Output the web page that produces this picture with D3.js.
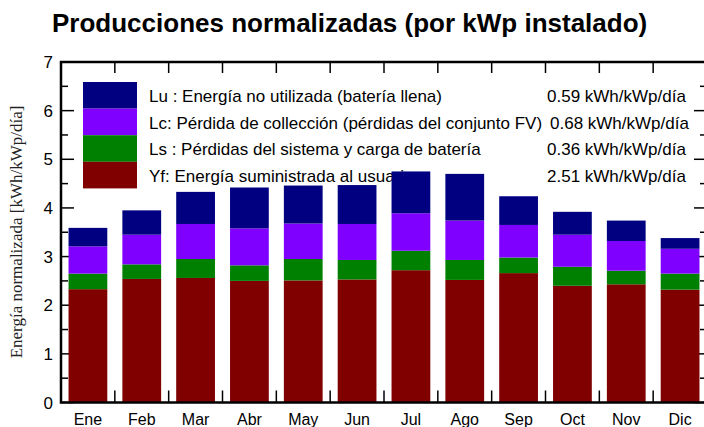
<!DOCTYPE html>
<html>
<head>
<meta charset="utf-8">
<style>
	body { margin: 0; background: #fff; }
	svg { position: absolute; top: 0; left: 0; }
	.frame { fill: none; stroke: #000; stroke-width: 2.5px; }
	.tick { stroke: #000; stroke-width: 1.5px; }
	text { font-family: "Liberation Sans", Arial, sans-serif; fill: #000; }
</style>
<script src="https://cdnjs.cloudflare.com/ajax/libs/d3/7.8.5/d3.min.js"></script>
</head>
<body>
<svg width="704" height="427"></svg>
<script>
// data (kWh/kWp/dia)
var months = ["Ene","Feb","Mar","Abr","May","Jun","Jul","Ago","Sep","Oct","Nov","Dic"];
var yf = [2.33, 2.54, 2.56, 2.50, 2.51, 2.53, 2.72, 2.52, 2.66, 2.40, 2.43, 2.32];
var ls = [0.32, 0.30, 0.39, 0.32, 0.44, 0.40, 0.40, 0.41, 0.32, 0.39, 0.28, 0.33];
var lc = [0.56, 0.61, 0.72, 0.76, 0.73, 0.74, 0.77, 0.81, 0.67, 0.66, 0.61, 0.51];
var lu = [0.38, 0.50, 0.66, 0.84, 0.78, 0.80, 0.86, 0.96, 0.59, 0.47, 0.42, 0.22];

var keys = ["yf", "ls", "lc", "lu"];
var colors = {yf: "#800000", ls: "#008000", lc: "#8000ff", lu: "#000080"};
var legendLabels = [
	{key: "lu", label: "Lu : Energía no utilizada (batería llena)", value: "0.59 kWh/kWp/día"},
	{key: "lc", label: "Lc: Pérdida de collección (pérdidas del conjunto FV)", value: "0.68 kWh/kWp/día"},
	{key: "ls", label: "Ls : Pérdidas del sistema y carga de batería", value: "0.36 kWh/kWp/día"},
	{key: "yf", label: "Yf: Energía suministrada al usuario", value: "2.51 kWh/kWp/día"}
];
var yTicks = [0, 1, 2, 3, 4, 5, 6, 7];

var table = months.map(function(m, i) {
	return {month: m, yf: yf[i], ls: ls[i], lc: lc[i], lu: lu[i]};
});

var svg = d3.select("svg");
var mLeft = 61, mRight = 707, mTop = 62, mBottom = 402.5;

var x = d3.scaleBand().domain(months).range([mLeft, mRight])
	.paddingInner(0.28).paddingOuter(0.14);
var y = d3.scaleLinear().domain([0, 7]).range([mBottom, mTop]);

// title
svg.append("text")
	.attr("x", 52).attr("y", 32)
	.attr("font-size", 26).attr("font-weight", "bold")
	.text("Producciones normalizadas (por kWp instalado)");

// y label
svg.append("text")
	.attr("transform", "translate(22," + 232 + ") rotate(-90)")
	.attr("text-anchor", "middle")
	.style("font-family", "'Liberation Serif', 'Times New Roman', serif")
	.style("fill", "#222")
	.attr("font-size", 17)
	.text("Energía normalizada [kWh/kWp/día]");

// ticks
var ticks = svg.append("g");
d3.range(0, 7.01, 0.5).forEach(function(v) {
	var len = (v % 1 === 0) ? 13 : 7;
	ticks.append("line").attr("class", "tick")
		.attr("x1", mLeft).attr("x2", mLeft + len).attr("y1", y(v)).attr("y2", y(v));
	ticks.append("line").attr("class", "tick")
		.attr("x1", mRight).attr("x2", mRight - len).attr("y1", y(v)).attr("y2", y(v));
});
months.slice(1).forEach(function(m) {
	var bx = x(m) - x.step() * 0.14;
	ticks.append("line").attr("class", "tick")
		.attr("x1", bx).attr("x2", bx).attr("y1", mBottom).attr("y2", mBottom - 12);
	ticks.append("line").attr("class", "tick")
		.attr("x1", bx).attr("x2", bx).attr("y1", mTop).attr("y2", mTop + 11);
});

svg.selectAll(".ylab").data(yTicks).enter().append("text")
	.attr("class", "ylab")
	.attr("x", 53).attr("y", function(d) { return y(d); })
	.attr("dy", "0.36em")
	.attr("text-anchor", "end")
	.attr("font-size", 17)
	.text(function(d) { return d; });

svg.selectAll(".xlab").data(months).enter().append("text")
	.attr("class", "xlab")
	.attr("x", function(d) { return x(d) + x.bandwidth() / 2; })
	.attr("y", 425)
	.attr("text-anchor", "middle")
	.attr("font-size", 16)
	.text(function(d) { return d; });

// legend (drawn under the bars)
var lg = svg.append("g");
var rowH = 26.6, lgTop = 82;
legendLabels.forEach(function(d, i) {
	lg.append("rect")
		.attr("x", 83).attr("y", lgTop + i * rowH)
		.attr("width", 54).attr("height", rowH)
		.attr("fill", colors[d.key]);
	lg.append("text")
		.attr("x", 149).attr("y", lgTop + i * rowH + 20)
		.attr("font-size", 17)
		.text(d.label);
	lg.append("text")
		.attr("x", i === 1 ? 550 : 547).attr("y", lgTop + i * rowH + 20)
		.attr("font-size", 17)
		.text(d.value);
});

// bars
var series = d3.stack().keys(keys)(table);
svg.append("g").selectAll("g").data(series).enter().append("g")
	.attr("fill", function(d) { return colors[d.key]; })
	.selectAll("rect").data(function(d) { return d; }).enter().append("rect")
	.attr("x", function(d) { return x(d.data.month); })
	.attr("y", function(d) { return y(d[1]); })
	.attr("width", x.bandwidth())
	.attr("height", function(d) { return y(d[0]) - y(d[1]); });

// frame
svg.append("rect").attr("class", "frame")
	.attr("x", mLeft).attr("y", mTop)
	.attr("width", mRight - mLeft).attr("height", mBottom - mTop);
</script>
</body>
</html>
